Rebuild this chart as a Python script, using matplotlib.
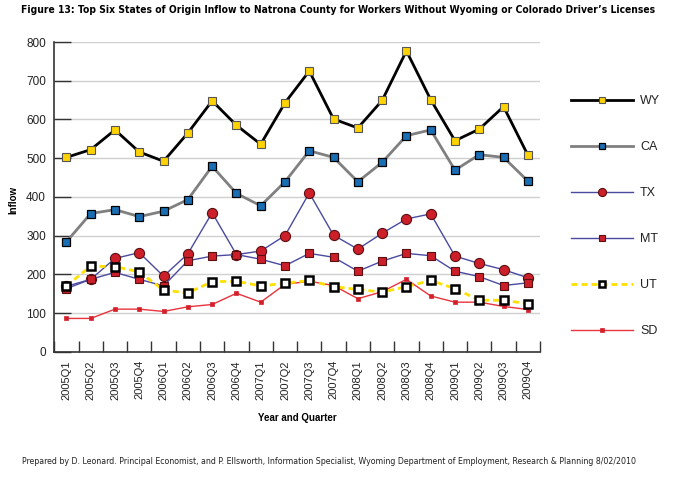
import matplotlib
matplotlib.use("Agg")
import matplotlib.pyplot as plt
from matplotlib import font_manager
from matplotlib.font_manager import FontProperties

quarters = ["2005Q1", "2005Q2", "2005Q3", "2005Q4", "2006Q1", "2006Q2", "2006Q3", "2006Q4",
            "2007Q1", "2007Q2", "2007Q3", "2007Q4", "2008Q1", "2008Q2", "2008Q3", "2008Q4",
            "2009Q1", "2009Q2", "2009Q3", "2009Q4"]
wy = [502, 522, 573, 516, 492, 565, 648, 585, 536, 643, 725, 601, 578, 649, 777, 651, 545, 575, 633, 508]
ca = [284, 357, 367, 349, 363, 393, 479, 409, 377, 439, 519, 502, 439, 489, 558, 573, 469, 509, 502, 441]
tx = [169, 187, 241, 256, 195, 253, 359, 251, 260, 300, 410, 301, 265, 306, 343, 356, 247, 228, 212, 191]
mt = [163, 187, 205, 187, 170, 235, 247, 251, 239, 222, 254, 244, 208, 234, 254, 248, 208, 194, 171, 178]
ut = [170, 221, 220, 206, 159, 152, 181, 182, 170, 177, 184, 168, 161, 154, 168, 184, 163, 133, 133, 124]
sd = [86, 86, 110, 110, 104, 116, 122, 151, 128, 174, 182, 171, 137, 155, 187, 144, 128, 128, 117, 109]

title_txt = "Figure 13: Top Six States of Origin Inflow to Natrona County for Workers Without Wyoming or Colorado Driver\u2019s Licenses"
foot_txt = ("Prepared by D. Leonard. Principal Economist, and P. Ellsworth, Information Specialist, "
            "Wyoming Department of Employment, Research & Planning 8/02/2010")

avail = {f.name for f in font_manager.fontManager.ttflist}
base = "Liberation Sans" if "Liberation Sans" in avail else "DejaVu Sans"
plt.rcParams["font.family"] = base

cond_bold = None
cond_reg = None
for f in font_manager.fontManager.ttflist:
    fn = f.fname.lower()
    if ("narrow" in fn or "condensed" in fn) and "italic" not in fn and "oblique" not in fn:
        if "bold" in fn and cond_bold is None:
            cond_bold = f.fname
        if "bold" not in fn and cond_reg is None:
            cond_reg = f.fname

title_fp = FontProperties(fname=cond_bold, size=8.5) if cond_bold else FontProperties(family=base, weight="bold", size=8.5)
foot_fp = FontProperties(fname=cond_reg, size=7.3) if cond_reg else FontProperties(family=base, size=7.3)

fig = plt.figure(figsize=(6.76, 4.79), dpi=100)
ax = fig.add_axes([0.0803, 0.2657, 0.7185, 0.6466])

x = list(range(len(quarters)))
h_wy, = ax.plot(x, wy, color="black", lw=2, marker="s", ms=6.2, mfc="#FFD200", mec="#555555", mew=0.8, label="WY", zorder=5)
h_ca, = ax.plot(x, ca, color="#808080", lw=2, marker="s", ms=6.2, mfc="#1A6FB4", mec="black", mew=0.9, label="CA", zorder=5)
h_tx, = ax.plot(x, tx, color="#4A4AA0", lw=1, marker="o", ms=7.3, mfc="#CC1F2A", mec="#5a1010", mew=0.8, label="TX", zorder=4)
h_mt, = ax.plot(x, mt, color="#4A4AA0", lw=1, marker="s", ms=6.2, mfc="#CC1F2A", mec="#5a1010", mew=0.8, label="MT", zorder=4)
h_sd, = ax.plot(x, sd, color="#E8333C", lw=1, marker="s", ms=3, mfc="#D4202A", mec="#D4202A", mew=0.5, label="SD", zorder=3)
h_ut, = ax.plot(x, ut, color="#FFE000", lw=2, ls=(0, (2.2, 1.4)), marker="s", ms=6.2, mfc="white", mec="black", mew=1.8, label="UT", zorder=6)

ax.set_xlim(-0.5, len(quarters) - 0.5)
ax.set_ylim(0, 800)
ax.set_yticks(range(0, 801, 100))
ax.set_xticks(x)
ax.set_xticklabels(quarters, rotation=90, fontsize=8, color="#222222")
ax.set_xticks([i - 0.5 for i in range(len(quarters) + 1)], minor=True)
ax.tick_params(axis="x", which="major", length=0, pad=6)
ax.tick_params(axis="x", which="minor", direction="in", length=8, width=1, color="#333333")
ax.tick_params(axis="y", direction="in", length=12, width=1, color="#333333", labelsize=8.5, labelcolor="#222222", pad=6)
ax.yaxis.grid(True, color="#D0D0D0", lw=1)
ax.set_axisbelow(True)
for s in ["top", "right"]:
    ax.spines[s].set_visible(False)
for s in ["left", "bottom"]:
    ax.spines[s].set_color("#333333")
    ax.spines[s].set_linewidth(1.2)

fig.text(0.012, 0.583, "Inflow", rotation=90, fontsize=7, fontweight="bold", va="center", ha="left")
fig.text(0.4393, 1 - 418 / 479, "Year and Quarter", fontsize=7, fontweight="bold", ha="center", va="center")
t_title = fig.text(0.5, 1 - 10 / 479, title_txt, fontproperties=title_fp, ha="center", va="center")
t_foot = fig.text(22 / 676, 1 - 462 / 479, foot_txt, fontproperties=foot_fp, ha="left", va="center", color="#222222")

# fit text widths to the reference widths
renderer = fig.canvas.get_renderer()
for t, target in [(t_title, 630.0), (t_foot, 613.0)]:
    for _ in range(3):
        w = t.get_window_extent(renderer).width
        t.set_fontsize(t.get_fontsize() * target / w)

leg = fig.legend(handles=[h_wy, h_ca, h_tx, h_mt, h_ut, h_sd], labels=["WY", "CA", "TX", "MT", "UT", "SD"],
                 loc="upper left", bbox_to_anchor=(565 / 676, 1 - 89 / 479), frameon=False,
                 fontsize=9, handlelength=4.9, handletextpad=0.6, labelspacing=2.72, borderpad=0, markerscale=0.8)
for t in leg.get_texts():
    t.set_color("#222222")

fig.savefig("out.png", dpi=100)
